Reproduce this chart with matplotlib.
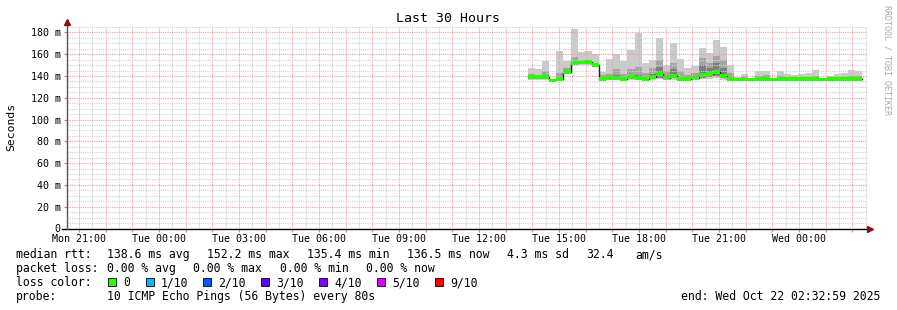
import matplotlib
matplotlib.use("Agg")
import matplotlib.pyplot as plt
import matplotlib.dates as mdates
from matplotlib.patches import Rectangle
from matplotlib.ticker import MultipleLocator, FuncFormatter
import pandas as pd

W, H = 897, 310
plt.rcParams['font.family'] = ['DejaVu Sans Mono']

# time frame of the graph
graph_start = pd.Timestamp("2025-10-20 20:32:59")
graph_end = pd.Timestamp("2025-10-22 02:32:59")
first_step = pd.Timestamp("2025-10-21 13:50:00")
step = "16min"

# smoke: per step min / low / core / median / high / max (ms)
rtt_max = [147, 146, 154, 137.5, 163, 154, 183, 162, 163, 160, 144, 156,
           160.5, 154, 163.5, 179.5, 151.5, 155, 175, 150, 170, 156, 147, 149,
           165.5, 161.5, 173.5, 167, 150.5, 139, 141.5, 138, 144.5, 144.5, 138.5, 144.5,
           141.5, 141, 141.5, 143, 145.5, 137.5, 140, 141.5, 143, 145.5, 145]
rtt_high = [142, 141, 145, 136.5, 143, 147, 157, 155, 155, 152, 141, 142,
            146, 141.5, 146, 148, 143, 147, 154.5, 145, 152, 145, 141, 143,
            156.5, 152, 158, 155, 143, 138, 139, 137.5, 140, 141, 137.5, 140,
            139.5, 139, 139, 139.5, 140, 137, 138.5, 139, 139.5, 140, 140]
rtt_core = [140, 140, 141, 136.3, 139, 145, 154, 153.5, 154, 151, 138.5, 139.5,
            141, 139, 141, 141, 139, 142, 148, 140, 146, 139, 138.5, 140,
            150, 147, 152, 147, 139, 137.3, 137.5, 137.2, 138.5, 138.5, 137.2, 138.5,
            138, 138, 138, 138, 138.5, 137.2, 138, 138, 138, 138.5, 138.5]
rtt_med = [139, 139, 139, 136, 137, 144, 152, 152.5, 153, 150, 137, 138,
           138.5, 137.5, 139, 138, 137.5, 139, 142, 138.5, 140, 137.5, 137.5, 138.5,
           141, 142, 144, 140, 137.5, 136.8, 136.8, 136.8, 137.5, 137.5, 136.8, 137.5,
           137.5, 137.5, 137.5, 137.5, 137.5, 136.8, 137.5, 137.5, 137.5, 137.5, 137.5]
rtt_low = [137.5, 137.5, 137.5, 135, 136, 142.5, 151, 151.5, 151.5, 149, 136, 136.5,
           137, 136.5, 137, 137, 136.5, 137.5, 138.5, 137, 138, 136.5, 136.5, 137,
           138.5, 139, 140, 138, 136.5, 136, 136, 136, 136.5, 136.5, 136, 136.5,
           136.5, 136.5, 136.5, 136.5, 136.5, 136, 136.5, 136.5, 136.5, 136.5, 136.5]
rtt_min = [136.5, 136.5, 136.5, 134.5, 135.5, 141.5, 150, 150.5, 150.5, 148, 135.5, 136,
           136, 136, 136, 136, 136, 136.5, 137, 136, 136.5, 136, 136, 136,
           137, 137.5, 138, 136.5, 136, 135.5, 135.5, 135.5, 136, 136, 135.5, 136,
           136, 136, 136, 136, 136, 135.5, 136, 136, 136, 136, 136]

loss_labels = ["0", "1/10", "2/10", "3/10", "4/10", "5/10", "9/10"]
loss_colors = ["#26ff00", "#00b8ff", "#0059ff", "#5e00ff", "#7e00ff", "#dd00ff", "#ff0000"]

rtt_stats = ["138.6 ms avg", "152.2 ms max", "135.4 ms min", "136.5 ms now", "4.3 ms sd"]
loss_stats = ["0.00 % avg", "0.00 % max", "0.00 % min", "0.00 % now"]


def ext(a):
    # repeat last value so step='post' covers the last interval
    return list(a) + [a[-1]]


def fx(x):
    return x / W


def fy(y):
    return 1 - y / H


fig = plt.figure(figsize=(W / 100, H / 100), dpi=100, facecolor="white")
ax = fig.add_axes([fx(67), fy(228.5), (867 - 67) / W, (228.5 - 27) / H])

t = pd.date_range(first_step, periods=len(rtt_med) + 1, freq=step)
x = mdates.date2num(t.to_pydatetime())

ax.fill_between(x, ext(rtt_min), ext(rtt_max), step="post", color="#cacaca", lw=0, zorder=1)
ax.fill_between(x, ext(rtt_low), ext(rtt_high), step="post", color="#a4a4a4", lw=0, zorder=1)
ax.fill_between(x, ext(rtt_low), ext(rtt_core), step="post", color="#7e7e7e", lw=0, zorder=1)
ax.step(x, ext(rtt_med), where="post", color="#202020", lw=1, zorder=3)
med = ext(rtt_med)
ax.fill_between(x, [m - 1.7 for m in med], [m + 1.7 for m in med], step="post",
                color=loss_colors[0], lw=0, zorder=4)

ax.set_xlim(mdates.date2num(graph_start.to_pydatetime()), mdates.date2num(graph_end.to_pydatetime()))
ax.set_ylim(0, 185)

# grid
ax.xaxis.set_major_locator(mdates.HourLocator())
ax.xaxis.set_minor_locator(mdates.MinuteLocator(byminute=[30]))


def xfmt(v, pos):
    d = mdates.num2date(v)
    if d.hour % 3 == 0 and d.minute == 0:
        return d.strftime("%a %H:%M")
    return ""


ax.xaxis.set_major_formatter(FuncFormatter(xfmt))
ax.yaxis.set_major_locator(MultipleLocator(20))
ax.yaxis.set_minor_locator(MultipleLocator(5))
ax.yaxis.set_major_formatter(FuncFormatter(lambda v, p: "0" if v == 0 else "%d m" % v))

ax.grid(which="major", color="#f0a0a0", linestyle=(0, (1, 1)), lw=0.8, zorder=2.5)
ax.grid(which="minor", color="#cfcfcf", linestyle=(0, (1, 1)), lw=0.8, zorder=2.4)
ax.set_axisbelow(False)

ax.tick_params(axis="x", which="major", length=2.5, width=0.8, color="#f08080",
               labelsize=7.2, pad=1.5)
ax.tick_params(axis="y", which="major", length=2.5, width=0.8, color="#909090",
               labelsize=7.2, pad=2)
ax.tick_params(which="minor", length=0)

for s in ax.spines.values():
    s.set_visible(False)
ax.plot([-0.006, 1.003], [0, 0], transform=ax.transAxes, clip_on=False, color="black", lw=1, zorder=6)
ax.plot([0, 0], [0, 1.02], transform=ax.transAxes, clip_on=False, color="#555555", lw=1, zorder=6)
ax.plot([1.004], [0], marker=">", ms=4, color="#8b1010", transform=ax.transAxes, clip_on=False, zorder=7)
ax.plot([0], [1.025], marker="^", ms=4, color="#8b1010", transform=ax.transAxes, clip_on=False, zorder=7)

# titles
fig.text(fx(448), fy(19), "Last 30 Hours", ha="center", va="center", fontsize=9.5)
fig.text(fx(11), fy(127), "Seconds", ha="center", va="center", rotation=90, fontsize=8.2)
fig.text(fx(887), fy(5), "RRDTOOL / TOBI OETIKER", ha="center", va="top", rotation=270,
         fontsize=6, color="#aaaaaa")

# legend
fs = 8.3
fig.text(fx(16), fy(258), "median rtt:", fontsize=fs, va="baseline")
for i, s in enumerate(rtt_stats):
    fig.text(fx(107 + 100 * i), fy(258), s, fontsize=fs, va="baseline")
fig.text(fx(586), fy(258), "32.4", fontsize=fs, va="baseline")
fig.text(fx(635), fy(258), "am/s", fontsize=fs, va="baseline")

fig.text(fx(16), fy(272), "packet loss:", fontsize=fs, va="baseline")
for i, s in enumerate(loss_stats):
    fig.text(fx(107 + 86.3 * i), fy(272), s, fontsize=fs, va="baseline")

fig.text(fx(16), fy(286), "loss color:", fontsize=fs, va="baseline")
box_x = [108, 146, 203, 261, 319, 377, 435]
for bx, lab, col in zip(box_x, loss_labels, loss_colors):
    fig.add_artist(Rectangle((fx(bx), fy(286)), 8 / W, 8 / H, transform=fig.transFigure,
                             facecolor=col, edgecolor="black", lw=0.6))
    fig.text(fx(bx + 15), fy(286), lab, fontsize=fs, va="baseline")

fig.text(fx(16), fy(300), "probe:", fontsize=fs, va="baseline")
fig.text(fx(107), fy(300), "10 ICMP Echo Pings (56 Bytes) every 80s", fontsize=fs, va="baseline")
fig.text(fx(880), fy(300), "end: Wed Oct 22 02:32:59 2025", fontsize=fs, va="baseline", ha="right")

fig.savefig("out.png", dpi=100, facecolor="white")
